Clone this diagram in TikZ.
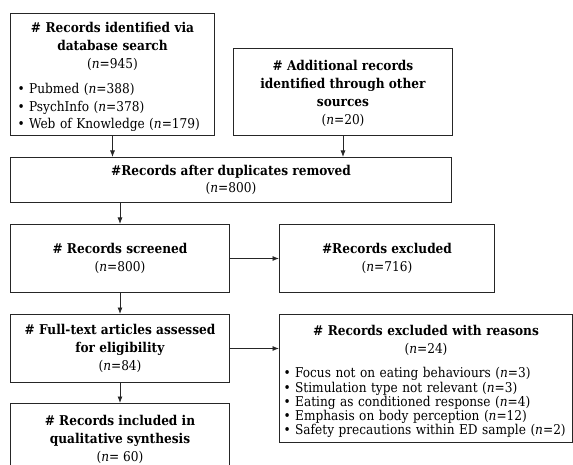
\documentclass[tikz,border=0pt]{standalone}
\usepackage{fontspec}
\setmainfont{DejaVu Serif Condensed}
\usetikzlibrary{positioning,arrows.meta}
\newcommand{\nval}[1]{(\textit{n}=#1)}
\newcommand{\bitem}[1]{\makebox[\hsize][l]{\textbullet\ #1}}

\tikzset{
  stage/.style={rectangle, draw=black!85, line width=1pt, anchor=north west, inner sep=0pt, align=center, font=\fontsize{13.5}{17.8}\selectfont},
  link/.style={-{Latex[length=6.5pt,width=5pt]}, line width=0.8pt, black!85},
}

\begin{document}
\begin{tikzpicture}[x=1pt,y=1pt]
\useasboundingbox (0,0) rectangle (573,-465);

\node[stage, minimum width=204pt, minimum height=122pt, text width=190pt] (ids) at (10,-13)
  {\rule{0pt}{16pt}\textbf{\# Records identified via}\\\textbf{database search}\\\nval{945}\\[7pt]
   \bitem{Pubmed \nval{388}}\\\bitem{PsychInfo \nval{378}}\\\bitem{Web of Knowledge \nval{179}}};
\node[stage, minimum width=219pt, minimum height=87pt] (other) at (233,-48)
  {\rule{0pt}{13pt}\textbf{\# Additional records}\\\textbf{identified through other}\\\textbf{sources}\\\nval{20}};

\node[stage, minimum width=441pt, minimum height=45pt] (dedup) at (10,-157)
  {\textbf{\#Records after duplicates removed}\\\nval{800}};

\node[stage, minimum width=219pt, minimum height=68pt] (screen) at (10,-224)
  {\textbf{\# Records screened}\\\nval{800}};
\node[stage, minimum width=215pt, minimum height=68pt] (excl) at (279,-224)
  {\textbf{\#Records excluded}\\\nval{716}};

\node[stage, minimum width=219pt, minimum height=68pt] (full) at (10,-314)
  {\textbf{\# Full-text articles assessed}\\\textbf{for eligibility}\\\nval{84}};
\node[stage, minimum width=293pt, minimum height=128pt, text width=285pt, font=\fontsize{13.5}{14.2}\selectfont] (reasons) at (279,-314)
  {\rule{0pt}{16pt}\textbf{\# Records excluded with reasons}\\[4pt]\nval{24}\\[10pt]
   \bitem{Focus not on eating behaviours \nval{3}}\\
   \bitem{Stimulation type not relevant \nval{3}}\\
   \bitem{Eating as conditioned response \nval{4}}\\
   \bitem{Emphasis on body perception \nval{12}}\\
   \bitem{Safety precautions within ED sample \nval{2}}};

\node[stage, minimum width=219pt, minimum height=72pt] (incl) at (10,-403)
  {\textbf{\# Records included in}\\\textbf{qualitative synthesis}\\(\textit{n}= 60)};

\draw[link] (ids) -- (ids |- dedup.north);
\draw[link] (other) -- (other |- dedup.north);
\draw[link] (dedup.south -| screen) -- (screen);
\draw[link] (screen) -- (excl);
\draw[link] (screen) -- (full);
\draw[link] (full.east) -- (full.east -| reasons.west);
\draw[link] (full) -- (incl);

\end{tikzpicture}
\end{document}
